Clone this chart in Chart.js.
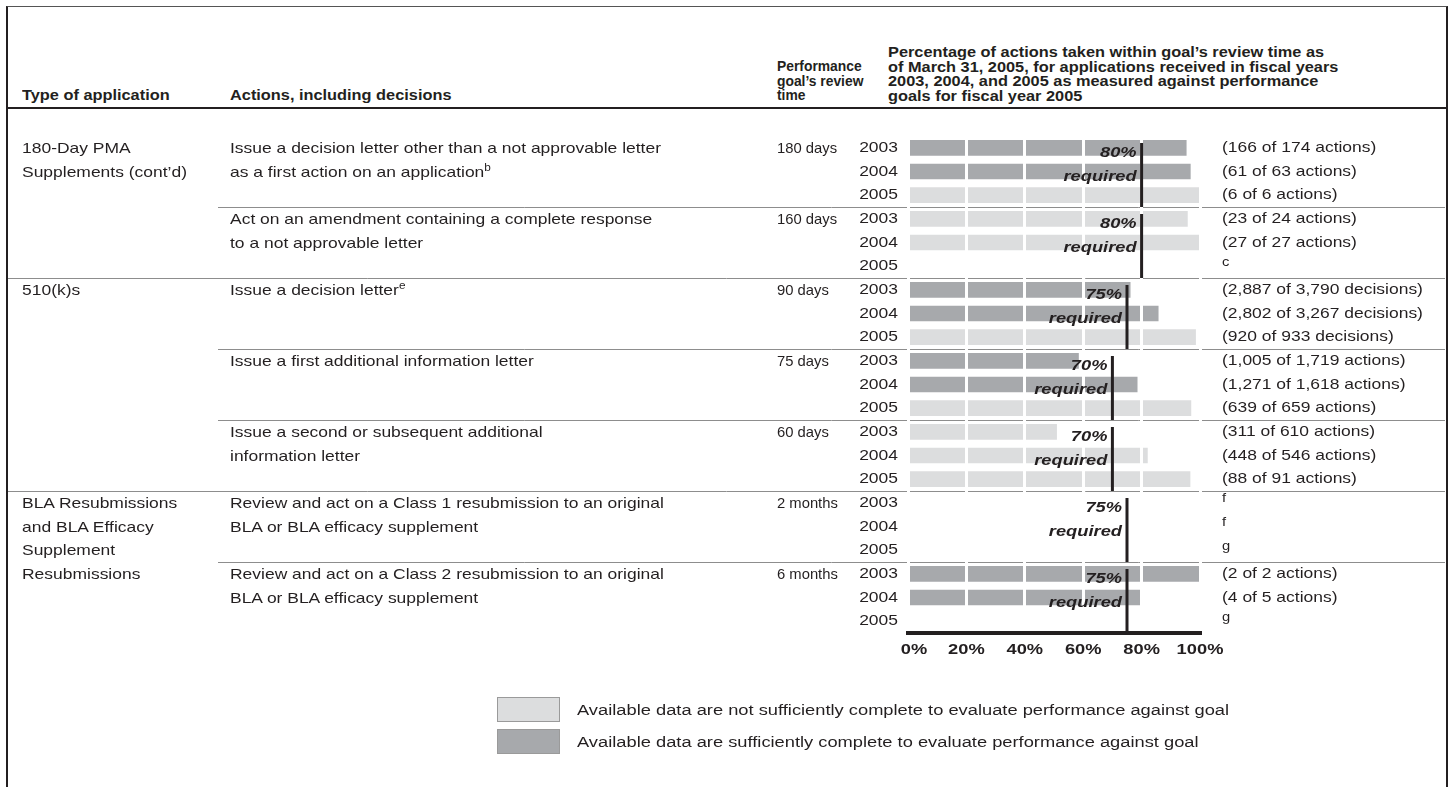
<!DOCTYPE html>
<html>
<head>
<meta charset="utf-8">
<script src="https://cdn.jsdelivr.net/npm/chart.js@4.4.0/dist/chart.umd.min.js"></script>
<style>
  html, body { margin: 0; padding: 0; background: #fff; }
  body { width: 1449px; height: 787px; position: relative; overflow: hidden;
         font-family: "Liberation Sans", Arial, Helvetica, sans-serif; color: #231f20; }
  canvas { position: absolute; left: 0; top: 0; }
  #frame { position: absolute; left: 6px; top: 6px; width: 1438px; height: 800px;
           border-left: 2px solid #231f20; border-right: 2px solid #231f20; border-top: 1px solid #555; }
  #headRule { position: absolute; left: 7px; top: 107px; width: 1440px; height: 2px; background: #231f20; }
  .hd { position: absolute; font-weight: bold; font-size: 13.85px; line-height: 14.5px;
        white-space: nowrap; transform: scaleX(1.18); transform-origin: 0 0; }
  .cell { position: absolute; font-size: 14.8px; line-height: 18px; white-space: nowrap;
          transform: scaleX(1.18); transform-origin: 0 50%; }
  .hd.narrow, .cell.narrow { transform: none; }
  .cell sup { font-size: 10px; line-height: 0; vertical-align: 6px; }
  .lg { font-size: 15.5px; }
  .lgBox { position: absolute; left: 497px; width: 61px; height: 23px; border: 1px solid #9a9a9a; }
</style>
</head>
<body>
<div id="frame"></div>
<div id="headRule"></div>
<div class="hd" style="left:22px; top:88px;">Type of application</div>
<div class="hd" style="left:230px; top:88px;">Actions, including decisions</div>
<div class="hd narrow" style="left:777px; top:59px;">Performance<br>goal’s review<br>time</div>
<div class="hd" style="left:888px; top:45px;">Percentage of actions taken within goal’s review time as<br>of March 31, 2005, for applications received in fiscal years<br>2003, 2004, and 2005 as measured against performance<br>goals for fiscal year 2005</div>
<canvas id="chart" width="1449" height="787"></canvas>
<script>
// fiscal years shown for every action
const years = ['2003', '2004', '2005'];

const appTypes = [
  ['180-Day PMA', 'Supplements (cont’d)'],
  ['510(k)s'],
  ['BLA Resubmissions', 'and BLA Efficacy', 'Supplement', 'Resubmissions']
];
const typeFirstAction = [0, 2, 5];

const actionLines = [
  ['Issue a decision letter other than a not approvable letter', 'as a first action on an application<sup>b</sup>'],
  ['Act on an amendment containing a complete response', 'to a not approvable letter'],
  ['Issue a decision letter<sup>e</sup>'],
  ['Issue a first additional information letter'],
  ['Issue a second or subsequent additional', 'information letter'],
  ['Review and act on a Class 1 resubmission to an original', 'BLA or BLA efficacy supplement'],
  ['Review and act on a Class 2 resubmission to an original', 'BLA or BLA efficacy supplement']
];
const reviewTimes = ['180 days', '160 days', '90 days', '75 days', '60 days', '2 months', '6 months'];
const requiredPct = [80, 80, 75, 70, 70, 75, 75];

// percent of actions within goal, one value per year row (3 rows per action)
const completeData = [95.4, 96.8, null,  null, null, null,  76.2, 85.8, null,  58.5, 78.6, null,
                      null, null, null,  null, null, null,  100, 80, null];
const incompleteData = [null, null, 100,  95.8, 100, null,  null, null, 98.6,  null, null, 97.0,
                        51.0, 82.1, 96.7,  null, null, null,  null, null, null];
const countLabels = [
  '(166 of 174 actions)', '(61 of 63 actions)', '(6 of 6 actions)',
  '(23 of 24 actions)', '(27 of 27 actions)', 'c',
  '(2,887 of 3,790 decisions)', '(2,802 of 3,267 decisions)', '(920 of 933 decisions)',
  '(1,005 of 1,719 actions)', '(1,271 of 1,618 actions)', '(639 of 659 actions)',
  '(311 of 610 actions)', '(448 of 546 actions)', '(88 of 91 actions)',
  'f', 'f', 'g',
  '(2 of 2 actions)', '(4 of 5 actions)', 'g'
];

const INK = '#231f20';
const STRETCH = 1.18;
const FONT = '"Liberation Sans", Arial, Helvetica, sans-serif';

const rowLabels = actionLines.flatMap(() => years);

function stretchedText(ctx, text, x, y, align, font) {
  ctx.save();
  ctx.font = font;
  ctx.textAlign = align;
  ctx.textBaseline = 'middle';
  ctx.translate(x, y);
  ctx.scale(STRETCH, 1);
  ctx.fillText(text, 0, 0);
  ctx.restore();
}

const tablePlugin = {
  id: 'tableLines',
  beforeDatasetsDraw(chart) {
    const ctx = chart.ctx, y = chart.scales.y;
    ctx.save();
    ctx.strokeStyle = '#8d8d8d';
    ctx.lineWidth = 1;
    for (let g = 1; g < reviewTimes.length; g++) {
      const yy = Math.round((y.getPixelForValue(g * 3 - 1) + y.getPixelForValue(g * 3)) / 2) + 0.5;
      const x0 = typeFirstAction.includes(g) ? 8 : 218;
      ctx.beginPath();
      ctx.moveTo(x0, yy);
      ctx.lineTo(1445, yy);
      ctx.stroke();
    }
    ctx.restore();
  },
  afterDraw(chart) {
    const ctx = chart.ctx, x = chart.scales.x, y = chart.scales.y, y2 = chart.scales.y2;
    const half = (y.getPixelForValue(1) - y.getPixelForValue(0)) / 2;
    ctx.save();
    ctx.fillStyle = INK;

    // year labels and counts
    y.ticks.forEach((t, i) => {
      stretchedText(ctx, y.getLabelForValue(i), 898, y.getPixelForTick(i), 'right', '14.8px ' + FONT);
    });
    y2.ticks.forEach((t, i) => {
      const lab = y2.getLabelForValue(i);
      if (lab.length === 1) {
        stretchedText(ctx, lab, 1222, y2.getPixelForTick(i) - 4, 'left', '12.5px ' + FONT);
      } else {
        stretchedText(ctx, lab, 1222, y2.getPixelForTick(i), 'left', '14.8px ' + FONT);
      }
    });
    x.ticks.forEach(t => {
      const px = x.getPixelForValue(t.value) + (t.value === 0 ? 6 : 0);
      stretchedText(ctx, t.value + '%', px, 650, 'center', 'bold 15.5px ' + FONT);
    });

    // required goal lines
    requiredPct.forEach((p, g) => {
      const px = x.getPixelForValue(p);
      const top = y.getPixelForValue(g * 3) - half + 7;
      const bottom = y.getPixelForValue(g * 3 + 2) + half;
      ctx.strokeStyle = INK;
      ctx.lineWidth = 3;
      ctx.beginPath();
      ctx.moveTo(px, top);
      ctx.lineTo(px, bottom);
      ctx.stroke();
      stretchedText(ctx, p + '%', px - 5, y.getPixelForValue(g * 3) + 5, 'right', 'italic bold 15.5px ' + FONT);
      stretchedText(ctx, 'required', px - 5, y.getPixelForValue(g * 3 + 1) + 5, 'right', 'italic bold 15.5px ' + FONT);
    });
    ctx.restore();
  }
};

const chart = new Chart(document.getElementById('chart').getContext('2d'), {
  type: 'bar',
  data: {
    labels: rowLabels,
    datasets: [
      {
        label: 'Available data are sufficiently complete to evaluate performance against goal',
        data: completeData,
        backgroundColor: '#a7a9ac',
        barPercentage: 0.66,
        categoryPercentage: 1
      },
      {
        label: 'Available data are not sufficiently complete to evaluate performance against goal',
        data: incompleteData,
        backgroundColor: '#dcddde',
        barPercentage: 0.66,
        categoryPercentage: 1
      }
    ]
  },
  options: {
    indexAxis: 'y',
    responsive: false,
    animation: false,
    layout: { padding: { top: 136, left: 0, right: 0, bottom: 0 } },
    plugins: { legend: { display: false }, tooltip: { enabled: false } },
    scales: {
      x: {
        min: 0, max: 100, stacked: true,
        ticks: { stepSize: 20, display: false },
        grid: { color: '#fff', lineWidth: 3, drawTicks: false, z: 1 },
        border: { color: INK, width: 4, z: 2 },
        afterFit(s) { s.height = 154; }
      },
      y: {
        stacked: true,
        grid: { display: false, drawTicks: false },
        border: { display: false },
        ticks: { display: false, autoSkip: false },
        afterFit(s) { s.width = 908; }
      },
      y2: {
        type: 'category', position: 'right', labels: countLabels, offset: true,
        grid: { display: false, drawTicks: false },
        border: { display: false },
        ticks: { display: false, autoSkip: false },
        afterFit(s) { s.width = 249; }
      }
    }
  },
  plugins: [tablePlugin]
});

// left-hand table columns, placed on the chart's own rows
const yScale = chart.scales.y;
function addCell(html, left, row, extra) {
  const d = document.createElement('div');
  d.className = 'cell' + (extra ? ' ' + extra : '');
  d.innerHTML = html;
  d.style.left = left + 'px';
  d.style.top = (yScale.getPixelForValue(row) - 9) + 'px';
  document.body.appendChild(d);
}
appTypes.forEach((lines, t) => {
  lines.forEach((s, i) => addCell(s, 22, typeFirstAction[t] * 3 + i));
});
actionLines.forEach((lines, g) => {
  lines.forEach((s, i) => addCell(s, 230, g * 3 + i));
  addCell(reviewTimes[g], 777, g * 3, 'narrow');
});

// legend built from the datasets
chart.data.datasets.slice().reverse().forEach((ds, i) => {
  const top = 697 + i * 32;
  const box = document.createElement('div');
  box.className = 'lgBox';
  box.style.top = top + 'px';
  box.style.background = ds.backgroundColor;
  document.body.appendChild(box);
  const lab = document.createElement('div');
  lab.className = 'cell lg';
  lab.textContent = ds.label;
  lab.style.left = '577px';
  lab.style.top = (top + 12.5 - 9) + 'px';
  document.body.appendChild(lab);
});
</script>
</body>
</html>
